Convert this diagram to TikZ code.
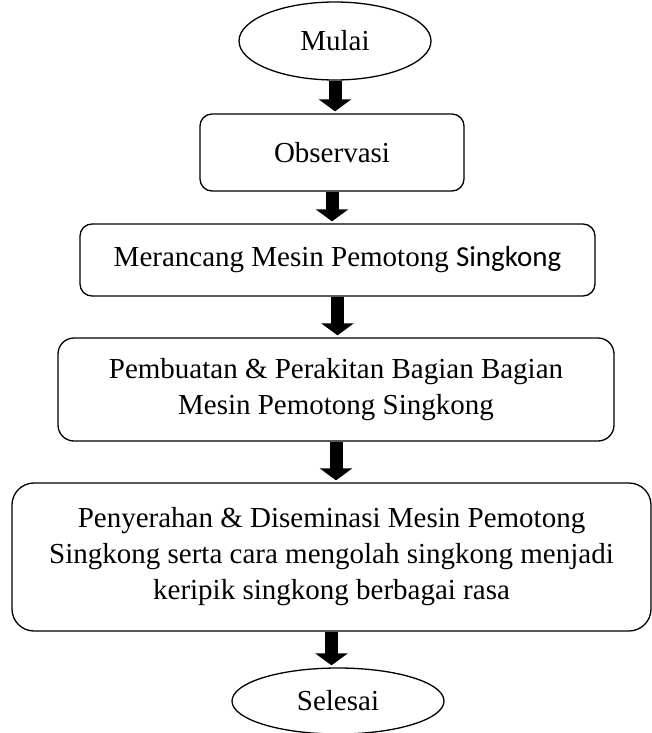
\documentclass[tikz,border=0pt]{standalone}
\usepackage{fontspec}
\setmainfont{Liberation Serif}
\newfontfamily\carlito{Carlito}
\usetikzlibrary{shapes.geometric,arrows.meta}
\tikzset{
  txt/.style={font=\fontsize{29}{36}\selectfont, align=center, inner sep=0pt},
  oval/.style={txt, draw, line width=1.3pt, ellipse},
  rbox/.style={txt, draw, line width=1.3pt, rectangle, rounded corners=12pt},
  blk/.style={line width=13pt, -{Triangle[width=32pt,length=12pt]}, shorten >=2pt}
}
\begin{document}
\begin{tikzpicture}[x=1pt,y=-1pt]
\useasboundingbox (0,0) rectangle (652,733);
\node[oval, minimum width=192pt, minimum height=78pt] (mulai) at (335,41) {Mulai};
\node[rbox, minimum width=264pt, minimum height=77pt] (obs) at (332,152.5) {Observasi};
\node[rbox, minimum width=515pt, minimum height=72pt] (rancang) at (337.5,260) {Merancang Mesin Pemotong {\carlito Singkong}};
\node[rbox, minimum width=556pt, minimum height=103pt, rounded corners=16pt] (buat) at (336,389.5) {Pembuatan \& Perakitan Bagian Bagian\\Mesin Pemotong Singkong};
\node[rbox, minimum width=639pt, minimum height=148pt, rounded corners=22pt] (serah) at (331.5,557) {Penyerahan \& Diseminasi Mesin Pemotong\\Singkong serta cara mengolah singkong menjadi\\keripik singkong berbagai rasa};
\node[oval, minimum width=212pt, minimum height=66pt] (selesai) at (338,701) {Selesai};
\draw[blk] (mulai.south) -- (mulai.south |- obs.north);
\draw[blk] (obs.south) -- (obs.south |- rancang.north);
\draw[blk] (rancang.south) -- (rancang.south |- buat.north);
\draw[blk] (buat.south) -- (buat.south |- serah.north);
\draw[blk] (serah.south) -- (serah.south |- selesai.north);
\end{tikzpicture}
\end{document}
